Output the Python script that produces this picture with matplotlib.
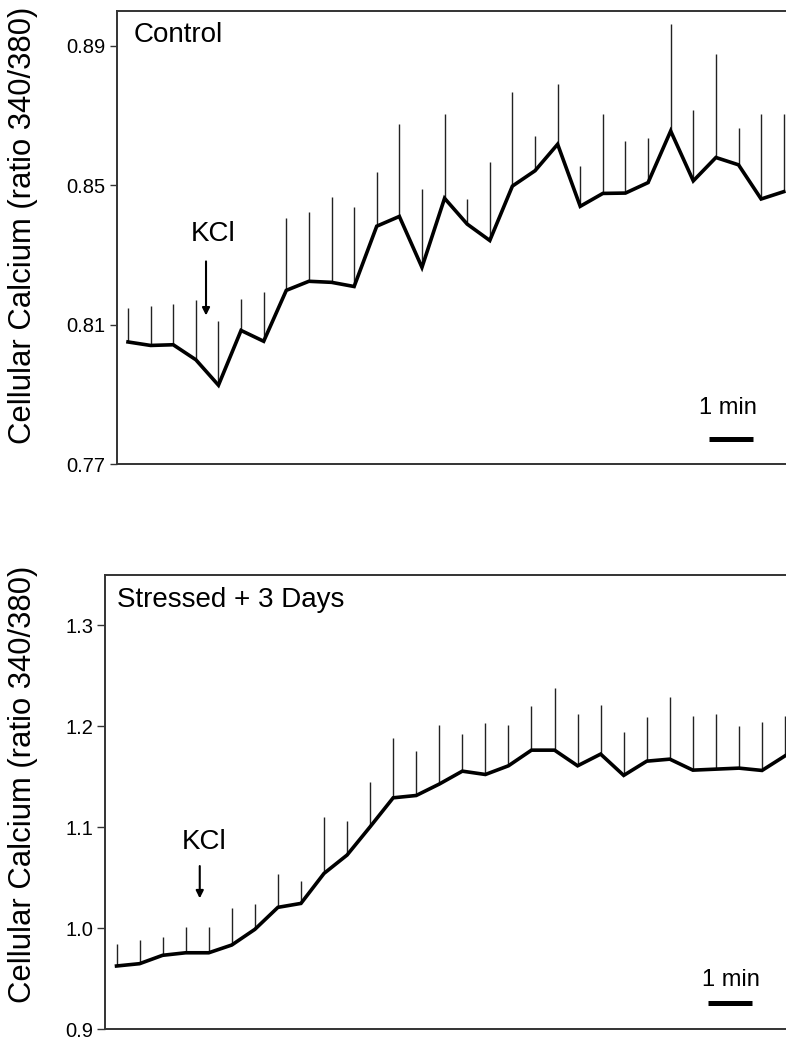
import numpy as np
import matplotlib.pyplot as plt

plt.rcParams['font.family'] = ['Liberation Sans', 'DejaVu Sans']

# time points (arbitrary sample index, 2 samples = 1 min)
t = np.arange(30)

# Control
ctrl_mean = [0.8050, 0.8040, 0.8042, 0.7999, 0.7926, 0.8083, 0.8052, 0.8198, 0.8224, 0.8221,
             0.8209, 0.8382, 0.8410, 0.8264, 0.8462, 0.8388, 0.8341, 0.8497, 0.8541, 0.8617,
             0.8439, 0.8476, 0.8477, 0.8507, 0.8655, 0.8512, 0.8579, 0.8558, 0.8460, 0.8481]
ctrl_err = [0.0096, 0.0114, 0.0118, 0.0170, 0.0183, 0.0089, 0.0141, 0.0208, 0.0200, 0.0246,
            0.0227, 0.0154, 0.0264, 0.0225, 0.0243, 0.0072, 0.0226, 0.0271, 0.0100, 0.0174,
            0.0116, 0.0227, 0.0150, 0.0128, 0.0307, 0.0204, 0.0298, 0.0105, 0.0243, 0.0222]

# Stressed + 3 days
str_mean = [0.9627, 0.9650, 0.9733, 0.9758, 0.9758, 0.9835, 0.9990, 1.0208, 1.0247, 1.0544,
            1.0726, 1.1006, 1.1293, 1.1316, 1.1429, 1.1557, 1.1524, 1.1610, 1.1765, 1.1765,
            1.1610, 1.1726, 1.1515, 1.1656, 1.1676, 1.1567, 1.1577, 1.1587, 1.1564, 1.1709]
str_err = [0.0218, 0.0234, 0.0178, 0.0258, 0.0258, 0.0363, 0.0248, 0.0330, 0.0221, 0.0555,
           0.0336, 0.0442, 0.0588, 0.0439, 0.0584, 0.0370, 0.0512, 0.0403, 0.0436, 0.0617,
           0.0518, 0.0485, 0.0425, 0.0433, 0.0617, 0.0535, 0.0548, 0.0419, 0.0478, 0.0396]

ctrl_ticks = [0.77, 0.81, 0.85, 0.89]
str_ticks = [0.9, 1.0, 1.1, 1.2, 1.3]

W, H = 786, 1038
fig = plt.figure(figsize=(W / 100, H / 100), dpi=100)
ax1 = fig.add_axes([116.7 / W, 1 - 464 / H, 1 - 116.7 / W, (464 - 10.7) / H])
ax2 = fig.add_axes([105 / W, 1 - 1029.3 / H, 1 - 105 / W, (1029.3 - 575) / H])

panels = [
    (ax1, ctrl_mean, ctrl_err, (0.77, 0.90), ctrl_ticks, '{:.2f}', 29.1, 'Control', 0.025,
     (3.76, 0.8361), (3.45, 0.8281, 0.8126), (26.55, 0.786), (25.7, 27.65, 0.7771), 5.0,
     225.5),
    (ax2, str_mean, str_err, (0.9, 1.35), str_ticks, '{:.1f}', 29.04, 'Stressed + 3 Days', 0.018,
     (3.8, 1.0857), (3.61, 1.0617, 1.0297), (26.64, 0.9488), (25.67, 27.57, 0.9257), 5.5,
     784),
]

for (ax, m, e, ylim, ticks, fmt, xr, title, tx, kcl, arr, mintxt, bar, tlen, ylab_y) in panels:
    m = np.array(m)
    e = np.array(e)
    ax.errorbar(t, m, yerr=[np.zeros_like(e), e], fmt='none', ecolor='#222222',
                elinewidth=1.0, capsize=0, zorder=2)
    ax.plot(t, m, color='black', lw=2.6, zorder=3, solid_joinstyle='miter')
    ax.set_xlim(-0.5, xr)
    ax.set_ylim(*ylim)
    ax.set_yticks(ticks)
    ax.set_yticklabels([fmt.format(v) for v in ticks], fontsize=14.5)
    ax.set_xticks([])
    ax.tick_params(axis='y', direction='out', length=tlen, width=1.0, pad=3,
                   color='#333333')
    for s in ['left', 'top', 'bottom']:
        ax.spines[s].set_color('#333333')
        ax.spines[s].set_linewidth(1.4)
    ax.spines['right'].set_visible(False)
    ax.set_ylabel('Cellular Calcium (ratio 340/380)', fontsize=22.3)
    ax.yaxis.set_label_coords(38 / W, 1 - ylab_y / H, transform=fig.transFigure)

    ax.text(tx, 0.946, title, transform=ax.transAxes,
            fontsize=20, ha='left', va='center')
    ax.text(kcl[0], kcl[1], 'KCl', fontsize=20, ha='center', va='center')
    ax.annotate('', xy=(arr[0], arr[2]), xytext=(arr[0], arr[1]),
                arrowprops=dict(arrowstyle='-|>', lw=1.5, color='black',
                                mutation_scale=11, shrinkA=0, shrinkB=0))
    ax.text(mintxt[0], mintxt[1], '1 min', fontsize=17, ha='center', va='center')
    ax.plot([bar[0], bar[1]], [bar[2], bar[2]], color='black', lw=3.6,
            solid_capstyle='butt')

fig.savefig('out.png', dpi=100)
